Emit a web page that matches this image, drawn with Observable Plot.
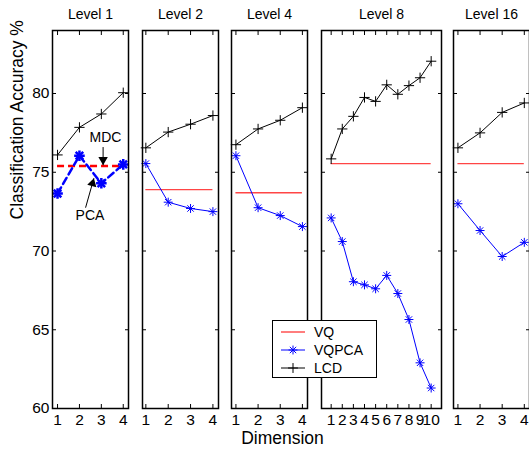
<!DOCTYPE html>
<html>
<head>
<meta charset="utf-8">
<script src="https://cdn.jsdelivr.net/npm/d3@7"></script>
<script src="https://cdn.jsdelivr.net/npm/@observablehq/plot@0.6"></script>
<style>
  body { margin: 0; background: #fff; }
  #fig { position: relative; width: 529px; height: 453px; overflow: hidden; background: #fff;
         font-family: "Liberation Sans", Arial, Helvetica, sans-serif; }
  #fig svg.panel { position: absolute; top: 0; }
  #xlabel { position: absolute; left: 0; width: 565px; top: 430px; text-align: center;
            font-size: 17.5px; line-height: 1; color: #000; }
  #legend { position: absolute; left: 272px; top: 320px; width: 103px; height: 56px;
            border: 1.2px solid #000; background: #fff; }
  #legend .row { position: absolute; left: 0; height: 18px; width: 103px; }
  #legend .row svg { position: absolute; left: 6px; top: 0; }
  #legend .row span { position: absolute; left: 41px; top: 1px; font-size: 14px; line-height: 16px; }
</style>
</head>
<body>
<div id="fig">
  <div id="xlabel">Dimension</div>
</div>
<script>
// ---------- data ----------
const titles = ["Level 1", "Level 2", "Level 4", "Level 8", "Level 16"];
const dims4 = [1, 2, 3, 4];
const dims10 = [1, 2, 3, 4, 5, 6, 7, 8, 9, 10];
const yTicks = [60, 65, 70, 75, 80];

// Level 1: LCD, PCA, MDC
const lcd1 = [76.1, 77.85, 78.7, 80.05];
const pca1 = [73.65, 76.05, 74.3, 75.5];
const mdc1 = 75.4;
// Level 2
const lcd2 = [76.55, 77.55, 78.05, 78.6];
const vqpca2 = [75.55, 73.1, 72.7, 72.5];
const vq2 = 73.9;
// Level 4
const lcd4 = [76.75, 77.75, 78.3, 79.1];
const vqpca4 = [76.05, 72.75, 72.25, 71.55];
const vq4 = 73.7;
// Level 8
const lcd8 = [75.85, 77.75, 78.55, 79.75, 79.5, 80.55, 79.95, 80.5, 81.0, 82.05];
const vqpca8 = [72.1, 70.6, 68.05, 67.85, 67.6, 68.45, 67.3, 65.65, 62.9, 61.3];
const vq8 = 75.55;
// Level 16
const lcd16 = [76.55, 77.5, 78.8, 79.4];
const vqpca16 = [73.0, 71.3, 69.65, 70.55];
const vq16 = 75.55;

// annotations (Level 1), in data coordinates
const annLabels = [{text: "MDC", x: 3.19, y: 77.2}, {text: "PCA", x: 2.48, y: 72.25}];
const annArrowMDC = [{x1: 3.08, y1: 76.6, x2: 3.08, y2: 75.45}];
const annArrowPCA = [{x1: 2.28, y1: 72.75, x2: 2.66, y2: 74.62}];

// ---------- styles ----------
const FONT = '"Liberation Sans", Arial, Helvetica, sans-serif';
const Y_DOMAIN = [60, 84];
const RED = "#ff4545";
const BLUE = "#0000ff";
const fig = document.getElementById("fig");

function series(xs, ys) { return xs.map((x, i) => ({x, y: ys[i]})); }

function axes(xTicks, yLabels) {
  const blank = () => "";
  return [
    Plot.axisX(xTicks, {anchor: "bottom", label: null, tickSize: -4, tickPadding: 9, fontSize: 15.5}),
    Plot.axisX(xTicks, {anchor: "top", label: null, tickSize: -4, tickFormat: blank}),
    Plot.axisY(yTicks, {anchor: "left", label: null, tickSize: -4, tickPadding: 7, fontSize: 15.5,
                        tickFormat: yLabels ? d => String(d) : blank}),
    Plot.axisY(yTicks, {anchor: "right", label: null, tickSize: -4, tickFormat: blank}),
    Plot.frame({stroke: "#000", strokeWidth: 1.5})
  ];
}

function stdMarks(xs, lcd, vqpca, vq) {
  const n = xs[xs.length - 1];
  return [
    Plot.ruleY([{y: vq, x1: 1, x2: n}], {y: "y", x1: "x1", x2: "x2", stroke: RED, strokeWidth: 1.4}),
    Plot.line(series(xs, vqpca), {x: "x", y: "y", stroke: BLUE, strokeWidth: 1}),
    Plot.dot(series(xs, vqpca), {x: "x", y: "y", symbol: "plus", r: 3, stroke: BLUE, strokeWidth: 1}),
    Plot.dot(series(xs, vqpca), {x: "x", y: "y", symbol: "times", r: 3, stroke: BLUE, strokeWidth: 1}),
    Plot.line(series(xs, lcd), {x: "x", y: "y", stroke: "#000", strokeWidth: 1}),
    Plot.dot(series(xs, lcd), {x: "x", y: "y", symbol: "plus", r: 3.4, stroke: "#000", strokeWidth: 1})
  ];
}

function panel({left, width, xDomain, xTicks, title, marks, yLabels}) {
  const mL = yLabels ? 52 : 14, mR = 14;
  const svg = Plot.plot({
    width: width + mL + mR,
    height: 453,
    marginLeft: mL, marginRight: mR, marginTop: 30, marginBottom: 45,
    x: {domain: xDomain},
    y: {domain: Y_DOMAIN},
    style: {background: "transparent", overflow: "visible", fontFamily: FONT, fontSize: "15.5px",
            color: "#000", maxWidth: "none"},
    marks: [
      ...marks,
      ...axes(xTicks, yLabels),
      Plot.text([title], {frameAnchor: "top", dy: -12, lineAnchor: "bottom", fontSize: 14, fill: "#000"}),
      ...(yLabels ? [Plot.text(["Classification Accuracy %"],
            {frameAnchor: "left", rotate: -90, dx: -35, fontSize: 17.5, fill: "#000"})] : [])
    ]
  });
  svg.classList.add("panel");
  svg.style.left = (left - mL) + "px";
  fig.appendChild(svg);
}

// Level 1
panel({
  left: 52, width: 76, xDomain: [0.77, 4.24], xTicks: dims4, title: titles[0], yLabels: true,
  marks: [
    Plot.ruleY([{y: mdc1, x1: 1, x2: 4}], {y: "y", x1: "x1", x2: "x2", stroke: "#ff0000", strokeWidth: 2.5, strokeDasharray: "7,4"}),
    Plot.line(series(dims4, pca1), {x: "x", y: "y", stroke: BLUE, strokeWidth: 2.5, strokeDasharray: "7,4"}),
    Plot.dot(series(dims4, pca1), {x: "x", y: "y", symbol: "plus", r: 3.5, stroke: BLUE, strokeWidth: 2.5}),
    Plot.dot(series(dims4, pca1), {x: "x", y: "y", symbol: "times", r: 3.5, stroke: BLUE, strokeWidth: 2.5}),
    Plot.line(series(dims4, lcd1), {x: "x", y: "y", stroke: "#000", strokeWidth: 1}),
    Plot.dot(series(dims4, lcd1), {x: "x", y: "y", symbol: "plus", r: 3.4, stroke: "#000", strokeWidth: 1}),
    Plot.text(annLabels, {x: "x", y: "y", text: "text", fontSize: 14, fill: "#000"}),
    Plot.link(annArrowMDC, {x1: "x1", y1: "y1", x2: "x2", y2: "y2", stroke: "#000", strokeWidth: 1}),
    Plot.dot(annArrowMDC, {x: "x2", y: "y2", symbol: "triangle", r: 3.5, fill: "#000", rotate: 180, dy: -5.4}),
    Plot.link(annArrowPCA, {x1: "x1", y1: "y1", x2: "x2", y2: "y2", stroke: "#000", strokeWidth: 1}),
    Plot.dot(annArrowPCA, {x: "x2", y: "y2", symbol: "triangle", r: 3.5, fill: "#000", rotate: 15, dx: -1.4, dy: 5.2})
  ]
});
// Level 2
panel({left: 142, width: 76, xDomain: [0.85, 4.25], xTicks: dims4, title: titles[1],
       marks: stdMarks(dims4, lcd2, vqpca2, vq2)});
// Level 4
panel({left: 231, width: 76, xDomain: [0.8, 4.23], xTicks: dims4, title: titles[2],
       marks: stdMarks(dims4, lcd4, vqpca4, vq4)});
// Level 8
panel({left: 321, width: 120, xDomain: [0.13, 10.93], xTicks: dims10, title: titles[3],
       marks: stdMarks(dims10, lcd8, vqpca8, vq8)});
// Level 16
panel({left: 453, width: 76, xDomain: [0.8, 4.235], xTicks: dims4, title: titles[4],
       marks: stdMarks(dims4, lcd16, vqpca16, vq16)});

// ---------- legend ----------
const legendItems = [
  {name: "VQ", color: RED, marker: null},
  {name: "VQPCA", color: BLUE, marker: "star"},
  {name: "LCD", color: "#000", marker: "plus"}
];
const legend = document.createElement("div");
legend.id = "legend";
legendItems.forEach((item, i) => {
  const row = document.createElement("div");
  row.className = "row";
  row.style.top = (2 + i * 18) + "px";
  const s = d3.create("svg").attr("width", 30).attr("height", 18);
  s.append("line").attr("x1", 2).attr("x2", 26).attr("y1", 9).attr("y2", 9)
    .attr("stroke", item.color).attr("stroke-width", item.marker ? 1 : 1.4);
  if (item.marker) {
    const g = s.append("g").attr("transform", "translate(14,9)").attr("stroke", item.color).attr("fill", "none");
    g.append("path").attr("d", d3.symbol(d3.symbolPlus, item.marker === "plus" ? 34 : 28)());
    if (item.marker === "star") g.append("path").attr("d", d3.symbol(d3.symbolTimes, 28)());
  }
  row.appendChild(s.node());
  const t = document.createElement("span");
  t.textContent = item.name;
  row.appendChild(t);
  legend.appendChild(row);
});
fig.appendChild(legend);
</script>
</body>
</html>
